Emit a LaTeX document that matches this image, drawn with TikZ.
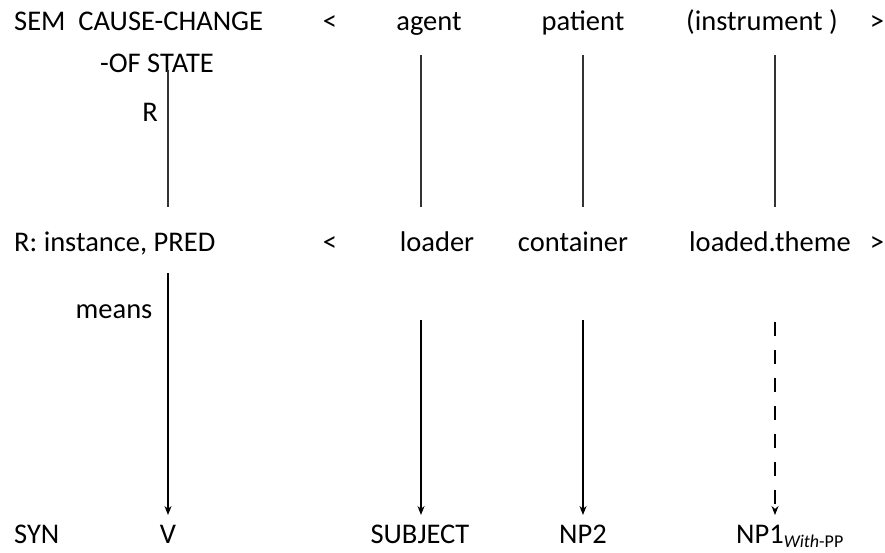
\documentclass[tikz,border=0pt]{standalone}
\usepackage{fontspec}
\setmainfont{Carlito}
\usetikzlibrary{arrows.meta}
\begin{document}
\begin{tikzpicture}[x=1pt,y=-1pt,
  lbl/.style={inner sep=0pt,font=\fontsize{28.5}{32}\selectfont,anchor=base},
  lnk/.style={line width=1.2pt,black!80},
  arr/.style={line width=1.4pt,-{Stealth[length=9pt,width=7pt]}}]
\useasboundingbox (0,0) rectangle (885,552);
% row 1
\node[lbl,anchor=base west] (sem) at (14,30) {SEM\ \ CAUSE-CHANGE};
\node[lbl] (ofstate) at (157,72) {-OF STATE};
\node[lbl] (r) at (150,121) {R};
\node[lbl] (lt1) at (330,30) {<};
\node[lbl] (agent) at (429,30) {agent};
\node[lbl] (patient) at (583,30) {patient};
\node[lbl] (instr) at (762,30) {(instrument )};
\node[lbl] (gt1) at (877,30) {>};
% row 2
\node[lbl,anchor=base west] (rinst) at (14,251) {R: instance, PRED};
\node[lbl] (means) at (114,318) {means};
\node[lbl] (lt2) at (330,251) {<};
\node[lbl] (loader) at (437,251) {loader};
\node[lbl] (container) at (573,251) {container};
\node[lbl] (loaded) at (770,251) {loaded.theme};
\node[lbl] (gt2) at (877,251) {>};
% row 3
\node[lbl,anchor=base west] (syn) at (14,543) {SYN};
\node[lbl] (v) at (168,543) {V};
\node[lbl] (subj) at (420,543) {SUBJECT};
\node[lbl] (np2) at (583,543) {NP2};
\node[lbl,anchor=base west] (np1) at (736,543) {NP1\raisebox{-4pt}{\fontsize{18}{20}\selectfont\textit{With}-PP}};
% coordinates
\coordinate (a1) at (168,70);  \coordinate (a2) at (168,207);
\coordinate (b1) at (421,55);  \coordinate (b2) at (421,207);
\coordinate (c1) at (583,55);  \coordinate (c2) at (583,207);
\coordinate (d1) at (775,55);  \coordinate (d2) at (775,207);
\coordinate (e1) at (168,273); \coordinate (e2) at (168,515);
\coordinate (f1) at (421,320); \coordinate (f2) at (421,515);
\coordinate (g1) at (583,320); \coordinate (g2) at (583,515);
\coordinate (h1) at (775,322); \coordinate (h2) at (775,515);
\draw[lnk] (a1) -- (a2);
\draw[lnk] (b1) -- (b2);
\draw[lnk] (c1) -- (c2);
\draw[lnk] (d1) -- (d2);
\draw[arr] (e1) -- (e2);
\draw[arr] (f1) -- (f2);
\draw[arr] (g1) -- (g2);
\draw[arr,dash pattern=on 14pt off 14pt] (h1) -- (h2);
\end{tikzpicture}
\end{document}
